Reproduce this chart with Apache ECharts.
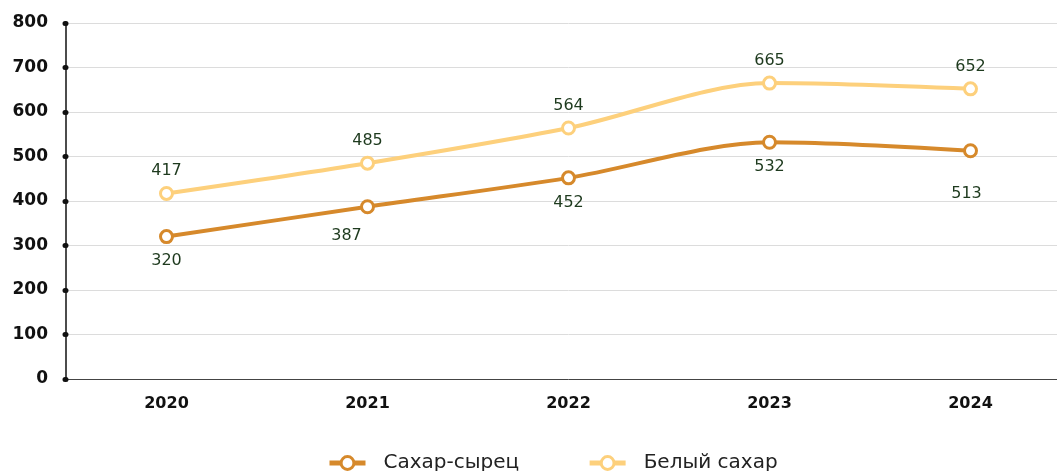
<!DOCTYPE html>
<html>
<head>
<meta charset="utf-8">
<script src="https://cdn.jsdelivr.net/npm/echarts@6/dist/echarts.min.js"></script>
<style>
  html, body { margin: 0; padding: 0; background: #fff; overflow: hidden; }
  #chart { width: 1071px; height: 471px; }
</style>
</head>
<body>
<div id="chart"></div>
<script>
// данные
const years = ['2020', '2021', '2022', '2023', '2024'];
const rawSugar = [320, 387, 452, 532, 513];
const whiteSugar = [417, 485, 564, 665, 652];
const seriesNames = ['Сахар-сырец', 'Белый сахар'];

const FONT = '"DejaVu Sans", sans-serif';
const rawOffsets = [[0, 24], [-21, 29], [0, 25], [0, 25], [-4, 43]];

const chart = echarts.init(document.getElementById('chart'));

const option = {
  animation: false,
  textStyle: { fontFamily: FONT },
  grid: { left: 66, right: 0, top: 23, bottom: 92 },
  legend: {
    top: 448,
    left: 322,
    itemWidth: 36,
    itemHeight: 16,
    itemGap: 68,
    lineStyle: { width: 5 },
    itemStyle: { borderWidth: 3 },
    textStyle: { fontSize: 20, color: '#222', padding: [0, 0, 0, 13], fontFamily: FONT },
    data: seriesNames
  },
  xAxis: {
    type: 'category',
    data: years,
    boundaryGap: true,
    axisLine: { lineStyle: { color: '#444', width: 1 } },
    axisTick: { show: false },
    axisLabel: { fontSize: 16, fontWeight: 'bold', color: '#111', margin: 17 }
  },
  yAxis: {
    type: 'value',
    min: 0,
    max: 800,
    interval: 100,
    axisLine: { show: true, lineStyle: { color: '#111', width: 1.5 } },
    axisTick: { show: true, length: 1, lineStyle: { color: '#111', width: 5, cap: 'round' } },
    axisLabel: { fontSize: 17, fontWeight: 'bold', color: '#111', margin: 18 },
    splitLine: { lineStyle: { color: '#dcdcdc', width: 1 } }
  },
  series: [
    {
      name: seriesNames[0],
      type: 'line',
      data: rawSugar.map((v, i) => ({
        value: v,
        label: { offset: rawOffsets[i] }
      })),
      smooth: 0.3,
      symbol: 'circle',
      symbolSize: 12,
      color: '#D6892B',
      lineStyle: { width: 4, color: '#D6892B' },
      itemStyle: { color: '#fff', borderColor: '#D6892B', borderWidth: 3 },
      label: { show: true, position: 'inside', fontSize: 16, color: '#1e3a1e', fontFamily: FONT }
    },
    {
      name: seriesNames[1],
      type: 'line',
      data: whiteSugar,
      smooth: 0.3,
      symbol: 'circle',
      symbolSize: 12,
      color: '#FDD07C',
      lineStyle: { width: 4, color: '#FDD07C' },
      itemStyle: { color: '#fff', borderColor: '#FDD07C', borderWidth: 3 },
      label: { show: true, position: 'top', distance: 7, fontSize: 16, color: '#1e3a1e', fontFamily: FONT }
    }
  ]
};

chart.setOption(option);
</script>
</body>
</html>
